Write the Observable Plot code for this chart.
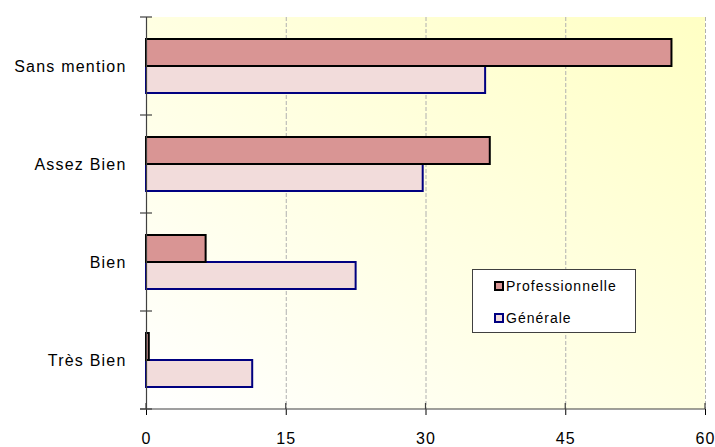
<!DOCTYPE html>
<html>
<head>
<meta charset="utf-8">
<script src="https://cdn.jsdelivr.net/npm/d3@7"></script>
<script src="https://cdn.jsdelivr.net/npm/@observablehq/plot@0.6"></script>
<style>
  html, body { margin: 0; padding: 0; background: #fff; }
  #wrap { position: relative; width: 715px; height: 447px; overflow: hidden; }
  #legend {
    position: absolute; left: 472px; top: 269px; width: 162px; height: 62px;
    background: #fff; border: 1px solid #404040;
    font-family: "Liberation Sans", Arial, sans-serif; font-size: 14px; letter-spacing: 1px; color: #000;
  }
  #legend .row { position: absolute; left: 21px; display: flex; align-items: center; height: 16px; }
  #legend .sw { width: 6px; height: 6px; border: 2px solid; margin-right: 2px; }
</style>
</head>
<body>
<div id="wrap"><div id="chart"></div><div id="legend"></div></div>
<script>
const categories = ["Sans mention", "Assez Bien", "Bien", "Très Bien"];
const series = ["Professionnelle", "Générale"];
const professionnelle = [56.4, 36.9, 6.4, 0.3];
const generale = [36.4, 29.7, 22.5, 11.4];
const xTicks = [0, 15, 30, 45, 60];
const fills = {"Professionnelle": "#d99594", "Générale": "#f2dcdb"};
const strokes = {"Professionnelle": "#000000", "Générale": "#000080"};

const data = categories.flatMap((c, i) => [
  {mention: c, serie: series[0], value: professionnelle[i]},
  {mention: c, serie: series[1], value: generale[i]}
]);

const plot = Plot.plot({
  width: 715, height: 447,
  marginLeft: 146, marginRight: 10, marginTop: 16, marginBottom: 37,
  style: {fontFamily: "'Liberation Sans', Arial, sans-serif", fontSize: "16px", letterSpacing: "1.2px", background: "transparent", color: "#000"},
  facet: {data, y: "mention"},
  fy: {domain: categories, padding: 0, axis: "left", tickSize: 0, tickPadding: 20, label: null},
  y: {domain: series, paddingInner: 0, paddingOuter: 0.76, axis: null},
  x: {domain: [0, 60], ticks: xTicks, tickSize: 6, tickPadding: 17, label: null, tickFormat: d => String(d)},
  marks: [
    Plot.ruleX(xTicks.slice(1), {stroke: "#b0b0b0", strokeDasharray: "4,2"}),
    Plot.barX(data, {filter: d => d.serie === series[1], x: "value", y: "serie", fill: fills[series[1]], stroke: strokes[series[1]], strokeWidth: 2}),
    Plot.barX(data, {filter: d => d.serie === series[0], x: "value", y: "serie", fill: fills[series[0]], stroke: strokes[series[0]], strokeWidth: 2}),
    Plot.ruleX([0], {stroke: "#404040", strokeWidth: 1.2})
  ]
});
document.getElementById("chart").appendChild(plot);

// background gradient, axis line and boundary ticks, from the plot's own scales
const sx = plot.scale("x"), sfy = plot.scale("fy");
const x0 = sx.apply(0), x1 = sx.apply(60);
const bw = sfy.bandwidth;
const yTop = sfy.apply(categories[0]);
const yBot = sfy.apply(categories[categories.length - 1]) + bw;
const svg = d3.select(plot);
const defs = svg.insert("defs", ":first-child");
const g = defs.append("linearGradient").attr("id", "bg").attr("x1", 0).attr("y1", 1).attr("x2", 1).attr("y2", 0);
g.append("stop").attr("offset", "0%").attr("stop-color", "#ffffff");
g.append("stop").attr("offset", "100%").attr("stop-color", "#ffffc4");
svg.insert("rect", "g").attr("x", x0).attr("y", yTop).attr("width", x1 - x0).attr("height", yBot - yTop).attr("fill", "url(#bg)");

const ax = svg.append("g").attr("stroke", "#404040").attr("stroke-width", 1.2);
ax.append("line").attr("x1", x0 - 6).attr("x2", x1).attr("y1", yBot).attr("y2", yBot);
xTicks.forEach(t => ax.append("line").attr("x1", sx.apply(t)).attr("x2", sx.apply(t)).attr("y1", yBot - 6).attr("y2", yBot));
const bounds = categories.map(c => sfy.apply(c)).concat([yBot]);
bounds.forEach(b => ax.append("line").attr("x1", x0 - 6).attr("x2", x0 + 6).attr("y1", b).attr("y2", b));

// legend inside the plot area
const legend = document.getElementById("legend");
series.forEach((s, i) => {
  const row = document.createElement("div");
  row.className = "row";
  row.style.top = (8 + i * 32) + "px";
  row.innerHTML = `<span class="sw" style="background:${fills[s]};border-color:${strokes[s]}"></span><span>${s}</span>`;
  legend.appendChild(row);
});
</script>
</body>
</html>
